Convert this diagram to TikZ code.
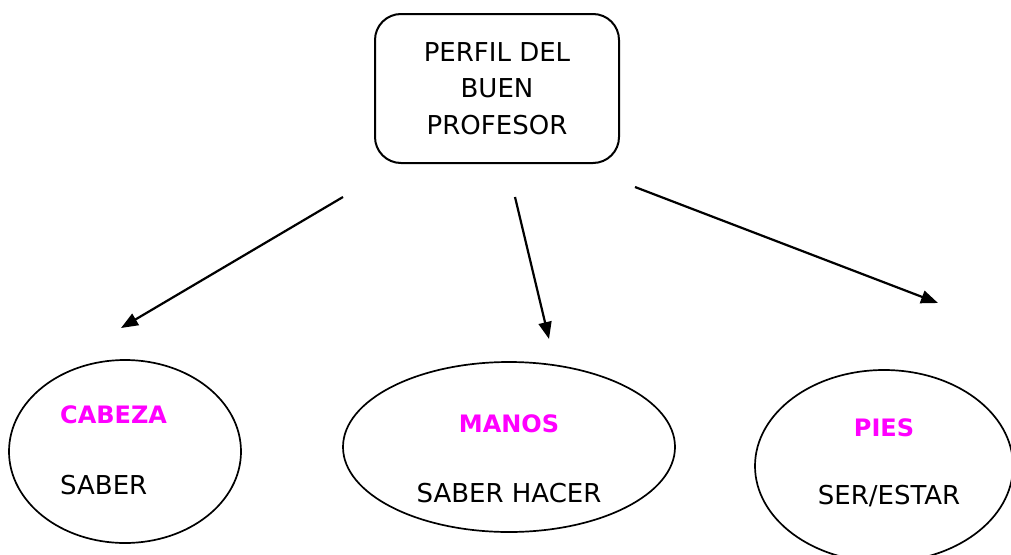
\documentclass[tikz,border=0pt]{standalone}
\usepackage{fontspec}
\setmainfont{DejaVu Sans}
\usetikzlibrary{arrows.meta,shapes.geometric}
\definecolor{mag}{HTML}{FF00FF}
\tikzset{
  titlebox/.style={draw,line width=2pt,rounded corners=26pt,minimum width=244pt,minimum height=149pt,inner sep=0pt},
  oval/.style={draw,ellipse,line width=1.7pt,inner sep=0pt},
  head/.style={font=\fontsize{24}{28}\selectfont\bfseries,text=mag,inner sep=0pt},
  body/.style={font=\fontsize{26}{30}\selectfont,inner sep=0pt},
  conn/.style={line width=2.2pt,-{Triangle[length=17pt,width=13pt]}}
}
\begin{document}
\begin{tikzpicture}[x=1pt,y=-1pt]
\useasboundingbox (0,0) rectangle (1011,554);
\node[titlebox] (top) at (497,88.5) {};
\node[body] (t1) at (497,52) {PERFIL DEL};
\node[body] (t2) at (497,88) {BUEN};
\node[body] (t3) at (497,125) {PROFESOR};

\node[oval,minimum width=232pt,minimum height=183pt] (left) at (125,451.5) {};
\node[head,anchor=west] (cab) at (60,415) {CABEZA};
\node[body,anchor=west] (sab) at (60,485) {SABER};

\node[oval,minimum width=332pt,minimum height=170pt] (mid) at (509,447) {};
\node[head] (man) at (509,424) {MANOS};
\node[body] (sh) at (509,493) {SABER HACER};

\node[oval,minimum width=258pt,minimum height=192pt] (right) at (884,466) {};
\node[head] (pies) at (884,428) {PIES};
\node[body] (se) at (889,496) {SER/ESTAR};

\coordinate (a1s) at (343,197);
\coordinate (a1e) at (121,328);
\coordinate (a2s) at (515,197);
\coordinate (a2e) at (549,339);
\coordinate (a3s) at (635,187);
\coordinate (a3e) at (938,303);
\draw[conn] (a1s) -- (a1e);
\draw[conn] (a2s) -- (a2e);
\draw[conn] (a3s) -- (a3e);
\end{tikzpicture}
\end{document}
